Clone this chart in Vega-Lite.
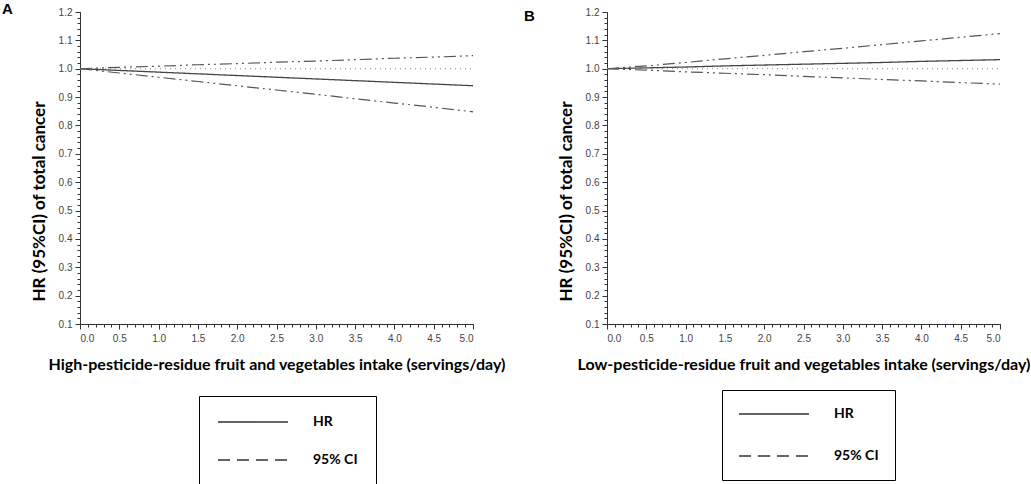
{
  "$schema": "https://vega.github.io/schema/vega-lite/v6.json",
  "background": "white",
  "padding": {"left": 2, "top": 2, "right": 0, "bottom": 0},
  "bounds": "flush",
  "spacing": 134,
  "config": {
    "view": {"stroke": null},
    "axis": {"grid": false, "domainColor": "#333", "tickColor": "#333", "labelFont": "Liberation Sans", "labelFontSize": 10, "labelColor": "#444", "titleFont": "Lato", "titleFontSize": 15, "titleFontWeight": "bold", "titleColor": "#000"}
  },
  "resolve": {"scale": {"strokeDash": "independent"}, "legend": {"strokeDash": "independent"}},
  "datasets": {
    "a": [
      {"x": 0, "series": "HR", "bound": "hr", "value": 1.0},
      {"x": 0.5, "series": "HR", "bound": "hr", "value": 0.994},
      {"x": 1.0, "series": "HR", "bound": "hr", "value": 0.988},
      {"x": 1.5, "series": "HR", "bound": "hr", "value": 0.982},
      {"x": 2.0, "series": "HR", "bound": "hr", "value": 0.976},
      {"x": 2.5, "series": "HR", "bound": "hr", "value": 0.970},
      {"x": 3.0, "series": "HR", "bound": "hr", "value": 0.964},
      {"x": 3.5, "series": "HR", "bound": "hr", "value": 0.958},
      {"x": 4.0, "series": "HR", "bound": "hr", "value": 0.952},
      {"x": 4.5, "series": "HR", "bound": "hr", "value": 0.946},
      {"x": 5.0, "series": "HR", "bound": "hr", "value": 0.940},
      {"x": 0, "series": "95% CI", "bound": "upper", "value": 1.0},
      {"x": 0.5, "series": "95% CI", "bound": "upper", "value": 1.005},
      {"x": 1.0, "series": "95% CI", "bound": "upper", "value": 1.009},
      {"x": 1.5, "series": "95% CI", "bound": "upper", "value": 1.014},
      {"x": 2.0, "series": "95% CI", "bound": "upper", "value": 1.018},
      {"x": 2.5, "series": "95% CI", "bound": "upper", "value": 1.023},
      {"x": 3.0, "series": "95% CI", "bound": "upper", "value": 1.027},
      {"x": 3.5, "series": "95% CI", "bound": "upper", "value": 1.032},
      {"x": 4.0, "series": "95% CI", "bound": "upper", "value": 1.037},
      {"x": 4.5, "series": "95% CI", "bound": "upper", "value": 1.041},
      {"x": 5.0, "series": "95% CI", "bound": "upper", "value": 1.046},
      {"x": 0, "series": "95% CI", "bound": "lower", "value": 1.0},
      {"x": 0.5, "series": "95% CI", "bound": "lower", "value": 0.985},
      {"x": 1.0, "series": "95% CI", "bound": "lower", "value": 0.970},
      {"x": 1.5, "series": "95% CI", "bound": "lower", "value": 0.955},
      {"x": 2.0, "series": "95% CI", "bound": "lower", "value": 0.940},
      {"x": 2.5, "series": "95% CI", "bound": "lower", "value": 0.925},
      {"x": 3.0, "series": "95% CI", "bound": "lower", "value": 0.910},
      {"x": 3.5, "series": "95% CI", "bound": "lower", "value": 0.894},
      {"x": 4.0, "series": "95% CI", "bound": "lower", "value": 0.879},
      {"x": 4.5, "series": "95% CI", "bound": "lower", "value": 0.864},
      {"x": 5.0, "series": "95% CI", "bound": "lower", "value": 0.848}
    ],
    "b": [
      {"x": 0, "series": "HR", "bound": "hr", "value": 1.0},
      {"x": 0.5, "series": "HR", "bound": "hr", "value": 1.003},
      {"x": 1.0, "series": "HR", "bound": "hr", "value": 1.006},
      {"x": 1.5, "series": "HR", "bound": "hr", "value": 1.010},
      {"x": 2.0, "series": "HR", "bound": "hr", "value": 1.013},
      {"x": 2.5, "series": "HR", "bound": "hr", "value": 1.016},
      {"x": 3.0, "series": "HR", "bound": "hr", "value": 1.019},
      {"x": 3.5, "series": "HR", "bound": "hr", "value": 1.022},
      {"x": 4.0, "series": "HR", "bound": "hr", "value": 1.026},
      {"x": 4.5, "series": "HR", "bound": "hr", "value": 1.029},
      {"x": 5.0, "series": "HR", "bound": "hr", "value": 1.032},
      {"x": 0, "series": "95% CI", "bound": "upper", "value": 1.0},
      {"x": 0.5, "series": "95% CI", "bound": "upper", "value": 1.010},
      {"x": 1.0, "series": "95% CI", "bound": "upper", "value": 1.022},
      {"x": 1.5, "series": "95% CI", "bound": "upper", "value": 1.035},
      {"x": 2.0, "series": "95% CI", "bound": "upper", "value": 1.047},
      {"x": 2.5, "series": "95% CI", "bound": "upper", "value": 1.060},
      {"x": 3.0, "series": "95% CI", "bound": "upper", "value": 1.072},
      {"x": 3.5, "series": "95% CI", "bound": "upper", "value": 1.085},
      {"x": 4.0, "series": "95% CI", "bound": "upper", "value": 1.098},
      {"x": 4.5, "series": "95% CI", "bound": "upper", "value": 1.111},
      {"x": 5.0, "series": "95% CI", "bound": "upper", "value": 1.124},
      {"x": 0, "series": "95% CI", "bound": "lower", "value": 1.0},
      {"x": 0.5, "series": "95% CI", "bound": "lower", "value": 0.995},
      {"x": 1.0, "series": "95% CI", "bound": "lower", "value": 0.989},
      {"x": 1.5, "series": "95% CI", "bound": "lower", "value": 0.984},
      {"x": 2.0, "series": "95% CI", "bound": "lower", "value": 0.979},
      {"x": 2.5, "series": "95% CI", "bound": "lower", "value": 0.973},
      {"x": 3.0, "series": "95% CI", "bound": "lower", "value": 0.968},
      {"x": 3.5, "series": "95% CI", "bound": "lower", "value": 0.962},
      {"x": 4.0, "series": "95% CI", "bound": "lower", "value": 0.957},
      {"x": 4.5, "series": "95% CI", "bound": "lower", "value": 0.951},
      {"x": 5.0, "series": "95% CI", "bound": "lower", "value": 0.946}
    ],
    "ref": [{"ref": 1.0}]
  },
  "hconcat": [
    {
      "width": 393,
      "height": 312,
      "title": {"text": "A", "anchor": "start", "frame": "group", "dx": -78, "offset": -10, "font": "Liberation Sans", "fontSize": 15, "fontWeight": "bold", "color": "#000"},
      "resolve": {"axis": {"x": "independent", "y": "independent"}},
      "layer": [
        {
          "data": {"name": "a"},
          "transform": [{"filter": "datum.series === 'HR'"}],
          "mark": {"type": "line", "color": "#444", "strokeWidth": 1.3},
          "encoding": {
            "x": {"field": "x", "type": "quantitative", "scale": {"domain": [0, 5], "nice": false, "zero": false},
              "axis": {"orient": "bottom", "values": [0, 0.5, 1, 1.5, 2, 2.5, 3, 3.5, 4, 4.5, 5], "format": ".1f", "tickSize": 5, "labelPadding": 4, "titlePadding": 13, "titleFontSize": 16,
                "title": "High-pesticide-residue fruit and vegetables intake (servings/day)"}},
            "y": {"field": "value", "type": "quantitative", "scale": {"domain": [0.1, 1.2], "nice": false, "zero": false},
              "axis": {"orient": "left", "values": [0.1, 0.2, 0.3, 0.4, 0.5, 0.6, 0.7, 0.8, 0.9, 1.0, 1.1, 1.2], "format": ".1f", "tickSize": 5, "labelPadding": 3, "titlePadding": 10, "titleFontSize": 17, "titleY": 189,
                "title": "HR (95%CI) of total cancer"}},
            "strokeDash": {"field": "series", "type": "nominal",
              "scale": {"domain": ["HR", "95% CI"], "range": [[1, 0], [12, 7]]},
              "legend": {"orient": "none", "legendX": 119, "legendY": 384, "title": null, "symbolType": "stroke", "symbolSize": 4900, "symbolStrokeWidth": 1.3, "symbolStrokeColor": "#333",
                "labelFont": "Lato", "labelFontSize": 14, "labelFontWeight": "bold", "labelColor": "#000", "labelOffset": 24, "padding": 18, "strokeColor": "#000", "rowPadding": 22, "clipHeight": 16}}
          }
        },
        {
          "data": {"name": "a"},
          "transform": [{"filter": "datum.series === '95% CI'"}],
          "mark": {"type": "line", "color": "#555", "strokeWidth": 1.2, "strokeDash": [12, 4, 2, 4, 2, 4]},
          "encoding": {
            "x": {"field": "x", "type": "quantitative", "axis": null},
            "y": {"field": "value", "type": "quantitative", "axis": null},
            "detail": {"field": "bound", "type": "nominal"}
          }
        },
        {
          "data": {"name": "ref"},
          "mark": {"type": "rule", "color": "#888", "strokeWidth": 1, "strokeDash": [1, 4]},
          "encoding": {
            "y": {"field": "ref", "type": "quantitative", "scale": {"domain": [0.1, 1.2], "nice": false, "zero": false},
              "axis": {"orient": "left", "values": [0.1,0.12,0.14,0.16,0.18,0.2,0.22,0.24,0.26,0.28,0.3,0.32,0.34,0.36,0.38,0.4,0.42,0.44,0.46,0.48,0.5,0.52,0.54,0.56,0.58,0.6,0.62,0.64,0.66,0.68,0.7,0.72,0.74,0.76,0.78,0.8,0.82,0.84,0.86,0.88,0.9,0.92,0.94,0.96,0.98,1.0,1.02,1.04,1.06,1.08,1.1,1.12,1.14,1.16,1.18,1.2], "labels": false, "domain": false, "tickSize": 3, "title": null}},
            "x": {"datum": 0, "type": "quantitative", "scale": {"domain": [0, 5], "nice": false, "zero": false},
              "axis": {"orient": "bottom", "values": [0,0.1,0.2,0.3,0.4,0.5,0.6,0.7,0.8,0.9,1,1.1,1.2,1.3,1.4,1.5,1.6,1.7,1.8,1.9,2,2.1,2.2,2.3,2.4,2.5,2.6,2.7,2.8,2.9,3,3.1,3.2,3.3,3.4,3.5,3.6,3.7,3.8,3.9,4,4.1,4.2,4.3,4.4,4.5,4.6,4.7,4.8,4.9,5], "labels": false, "domain": false, "tickSize": 3, "title": null}},
            "x2": {"datum": 5}
          }
        }
      ]
    },
    {
      "width": 393,
      "height": 312,
      "title": {"text": "B", "anchor": "start", "frame": "group", "dx": -83, "offset": -17, "font": "Liberation Sans", "fontSize": 15, "fontWeight": "bold", "color": "#000"},
      "resolve": {"axis": {"x": "independent", "y": "independent"}},
      "layer": [
        {
          "data": {"name": "b"},
          "transform": [{"filter": "datum.series === 'HR'"}],
          "mark": {"type": "line", "color": "#444", "strokeWidth": 1.3},
          "encoding": {
            "x": {"field": "x", "type": "quantitative", "scale": {"domain": [0, 5], "nice": false, "zero": false},
              "axis": {"orient": "bottom", "values": [0, 0.5, 1, 1.5, 2, 2.5, 3, 3.5, 4, 4.5, 5], "format": ".1f", "tickSize": 5, "labelPadding": 4, "titlePadding": 13, "titleFontSize": 16,
                "title": "Low-pesticide-residue fruit and vegetables intake (servings/day)"}},
            "y": {"field": "value", "type": "quantitative", "scale": {"domain": [0.1, 1.2], "nice": false, "zero": false},
              "axis": {"orient": "left", "values": [0.1, 0.2, 0.3, 0.4, 0.5, 0.6, 0.7, 0.8, 0.9, 1.0, 1.1, 1.2], "format": ".1f", "tickSize": 5, "labelPadding": 3, "titlePadding": 10, "titleFontSize": 17, "titleY": 189,
                "title": "HR (95%CI) of total cancer"}},
            "strokeDash": {"field": "series", "type": "nominal",
              "scale": {"domain": ["HR", "95% CI"], "range": [[1, 0], [12, 7]]},
              "legend": {"orient": "none", "legendX": 115, "legendY": 378, "title": null, "symbolType": "stroke", "symbolSize": 4900, "symbolStrokeWidth": 1.3, "symbolStrokeColor": "#333",
                "labelFont": "Lato", "labelFontSize": 14, "labelFontWeight": "bold", "labelColor": "#000", "labelOffset": 24, "padding": 16, "strokeColor": "#000", "rowPadding": 26, "clipHeight": 16}}
          }
        },
        {
          "data": {"name": "b"},
          "transform": [{"filter": "datum.series === '95% CI'"}],
          "mark": {"type": "line", "color": "#555", "strokeWidth": 1.2, "strokeDash": [12, 4, 2, 4, 2, 4]},
          "encoding": {
            "x": {"field": "x", "type": "quantitative", "axis": null},
            "y": {"field": "value", "type": "quantitative", "axis": null},
            "detail": {"field": "bound", "type": "nominal"}
          }
        },
        {
          "data": {"name": "ref"},
          "mark": {"type": "rule", "color": "#888", "strokeWidth": 1, "strokeDash": [1, 4]},
          "encoding": {
            "y": {"field": "ref", "type": "quantitative", "scale": {"domain": [0.1, 1.2], "nice": false, "zero": false},
              "axis": {"orient": "left", "values": [0.1,0.12,0.14,0.16,0.18,0.2,0.22,0.24,0.26,0.28,0.3,0.32,0.34,0.36,0.38,0.4,0.42,0.44,0.46,0.48,0.5,0.52,0.54,0.56,0.58,0.6,0.62,0.64,0.66,0.68,0.7,0.72,0.74,0.76,0.78,0.8,0.82,0.84,0.86,0.88,0.9,0.92,0.94,0.96,0.98,1.0,1.02,1.04,1.06,1.08,1.1,1.12,1.14,1.16,1.18,1.2], "labels": false, "domain": false, "tickSize": 3, "title": null}},
            "x": {"datum": 0, "type": "quantitative", "scale": {"domain": [0, 5], "nice": false, "zero": false},
              "axis": {"orient": "bottom", "values": [0,0.1,0.2,0.3,0.4,0.5,0.6,0.7,0.8,0.9,1,1.1,1.2,1.3,1.4,1.5,1.6,1.7,1.8,1.9,2,2.1,2.2,2.3,2.4,2.5,2.6,2.7,2.8,2.9,3,3.1,3.2,3.3,3.4,3.5,3.6,3.7,3.8,3.9,4,4.1,4.2,4.3,4.4,4.5,4.6,4.7,4.8,4.9,5], "labels": false, "domain": false, "tickSize": 3, "title": null}},
            "x2": {"datum": 5}
          }
        }
      ]
    }
  ]
}
